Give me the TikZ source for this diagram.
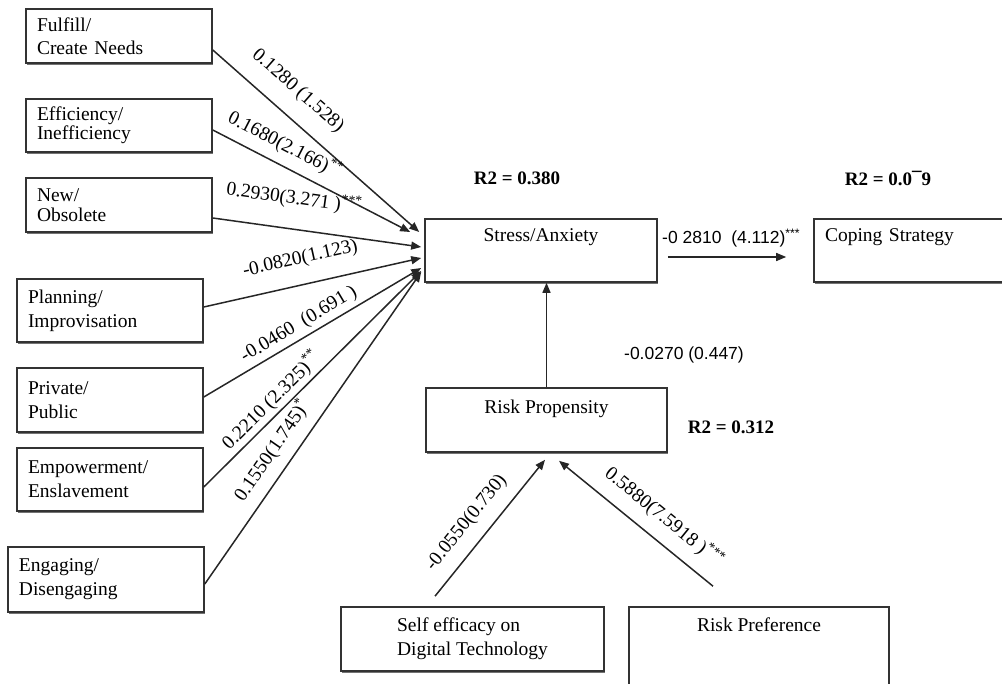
\documentclass[tikz,border=0pt]{standalone}
\usepackage{fontspec}
\setmainfont{Liberation Serif}
\newfontfamily\arialfont{Liberation Sans}
\usetikzlibrary{arrows.meta,shadows}
\tikzset{
  box/.style={rectangle,draw=black!80,line width=1.6pt,fill=white,inner sep=0pt,
    drop shadow={shadow xshift=0.6pt,shadow yshift=-1.8pt,fill=black!55,opacity=1},
    font=\fontsize{19.5}{24}\selectfont},
  leftbox/.style={box,minimum width=186pt,text width=164pt,inner xsep=11pt,align=left},
  link/.style={draw=black!85,line width=1.5pt,-{Triangle[length=10pt,width=8pt]}},
  coef/.style={font=\fontsize{19.5}{20}\selectfont,sloped,inner sep=1pt},
  rsq/.style={font=\fontsize{19}{20}\selectfont\bfseries,inner sep=1pt},
  plain/.style={font=\arialfont\fontsize{17.5}{20}\selectfont,inner sep=1pt}
}
\begin{document}
\begin{tikzpicture}[x=1pt,y=-1pt]
\useasboundingbox (0,0) rectangle (1002,684);
\clip (0,0) rectangle (1002,684);
\node[leftbox,minimum height=54pt,font=\fontsize{19.5}{23}\selectfont] (fulfill) at (119,36) {Fulfill/\\Create Needs};
\node[leftbox,minimum height=53pt,font=\fontsize{19.5}{19}\selectfont] (effic) at (119,125.5) {Efficiency/\\Inefficiency};
\node[leftbox,minimum height=54pt,font=\fontsize{19.5}{20}\selectfont] (newobs) at (119,205) {New/\\Obsolete};
\node[leftbox,minimum height=63pt] (plan) at (110,310.5) {Planning/\\Improvisation};
\node[leftbox,minimum height=64pt] (priv) at (110,400) {Private/\\Public};
\node[leftbox,minimum height=63pt] (empow) at (110,479.5) {Empowerment/\\Enslavement};
\node[leftbox,minimum width=196pt,text width=174pt,minimum height=65pt] (engag) at (106,579.5) {Engaging/\\Disengaging};
\node[box,minimum width=232pt,text height=23pt,text depth=40pt] (stress) at (541,250.5) {Stress/Anxiety};
\node[box,minimum width=196pt,text width=174pt,inner xsep=11pt,text height=23pt,text depth=40pt] (coping) at (912,250.5) {Coping Strategy};
\node[box,minimum width=241pt,text height=26pt,text depth=38pt] (rprop) at (546.5,420) {Risk Propensity};
\node[box,minimum width=263pt,minimum height=64pt,align=left] (selfeff) at (472.5,639) {Self efficacy on\\Digital Technology};
\node[box,minimum width=260pt,text height=24pt,text depth=70pt] (rpref) at (759,654) {Risk Preference};
\node[rsq] (r2stress) at (517,178) {R2 = 0.380};
\node[rsq] (r2coping) at (888,178) {R2 = 0.0¯9};
\node[rsq] (r2rprop) at (731,427) {R2 = 0.312};
\draw[link] ([shift={(0,14)}]fulfill.east) -- node[coef,above=15pt,pos=0.33] (c1) {0.1280 (1.528)} ([shift={(-5,-18.5)}]stress.west);
\draw[link] ([shift={(0,4.5)}]effic.east) -- node[coef,above=8pt,pos=0.32] (c2) {0.1680(2.166)\textsuperscript{**}} ([shift={(-14,-18.5)}]stress.west);
\draw[link] ([shift={(0,13)}]newobs.east) -- node[coef,above=19pt,pos=0.37] (c3) {0.2930(3.271 )\textsuperscript{***}} ([shift={(-3,-3.5)}]stress.west);
\draw[link] ([shift={(0,-3.5)}]plan.east) -- node[coef,above=15pt,pos=0.47] (c4) {-0.0820(1.123)} ([shift={(-3,7.5)}]stress.west);
\draw[link] ([shift={(0,-3)}]priv.east) -- node[coef,above=3pt,pos=0.47] (c5) {-0.0460\ \ (0.691 )} ([shift={(-3,17.5)}]stress.west);
\draw[link] ([shift={(0,7.5)}]empow.east) -- node[coef,above=2pt,pos=0.355] (c6) {0.2210 (2.325)\textsuperscript{**}} ([shift={(-3,20.5)}]stress.west);
\draw[link] ([shift={(0,4.5)}]engag.east) -- node[coef,above=9pt,pos=0.39] (c7) {0.1550(1.745)\textsuperscript{*}} ([shift={(-3,21.5)}]stress.west);
\draw[link] ([shift={(10,6.5)}]stress.east) -- ([shift={(-27,6.5)}]coping.west);
\node[plain,anchor=west] (c8) at (661,238) {-0 2810\ \ (4.112)\textsuperscript{***}};
\draw[link] (rprop.north) -- (rprop.north |- stress.south);
\node[plain] (c9) at (684,355) {-0.0270 (0.447)};
\draw[link] ([shift={(-37.5,-10)}]selfeff.north) -- node[coef,above=11pt,pos=0.44] (c10) {-0.0550(0.730)} ([shift={(-1.5,7)}]rprop.south);
\draw[link] ([shift={(-46,-20)}]rpref.north) -- node[coef,above=11pt,pos=0.41] (c11) {0.5880(7.5918 )\textsuperscript{***}} ([shift={(12.5,8)}]rprop.south);
\end{tikzpicture}
\end{document}
